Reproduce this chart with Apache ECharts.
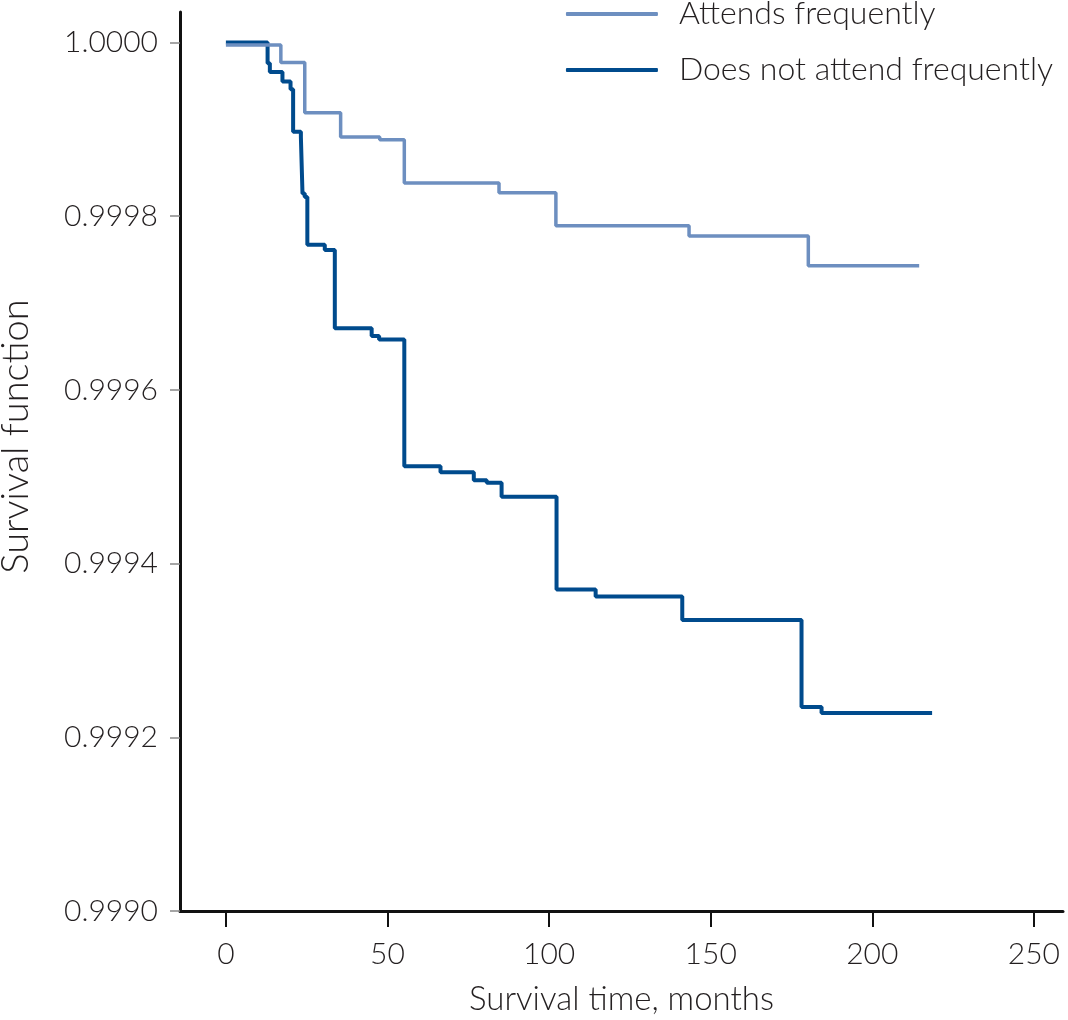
<!DOCTYPE html>
<html>
<head>
<meta charset="utf-8">
<style>html,body{margin:0;padding:0;background:#fff}#c{width:1068px;height:1020px}</style>
<script src="https://cdn.jsdelivr.net/npm/echarts@6/dist/echarts.min.js"></script>
</head>
<body>
<div id="c"></div>
<script>
const seriesNames = ['Attends frequently', 'Does not attend frequently'];
const attendsT = [0, 17.0, 24.4, 35.5, 47.6, 55.2, 84.5, 102.1, 143.3, 180.2, 214.5];
const attendsS = [0.999997, 0.999977, 0.999919, 0.999891, 0.999888, 0.999838, 0.999827, 0.999789, 0.999777, 0.999743, 0.999743];
const notT = [0, 12.9, 13.6, 17.5, 20.0, 20.8, 23.2, 23.7, 24.4, 25.2, 30.6, 33.7, 45.1, 47.4, 55.2, 66.4, 76.7, 80.7, 85.3, 102.3, 114.4, 141.2, 178.1, 184.3, 218.5];
const notS = [1.0, 0.999976, 0.999966, 0.999955, 0.999946, 0.999897, 0.999891, 0.999826, 0.999822, 0.999767, 0.999761, 0.999671, 0.999662, 0.999658, 0.999512, 0.999505, 0.999496, 0.999493, 0.999477, 0.999370, 0.999362, 0.999335, 0.999235, 0.999228, 0.999228];
const xTicks = [0, 50, 100, 150, 200, 250];
const yTicks = [0.9990, 0.9992, 0.9994, 0.9996, 0.9998, 1.0000];

const FONT = 'Lato';
const TXT = '#231f20';
const chart = echarts.init(document.getElementById('c'));
chart.setOption({
  animation: false,
  backgroundColor: '#fff',
  grid: {left: 180, right: 5, top: 12, bottom: 109, outerBoundsMode: 'none', containLabel: false},
  legend: {
    orient: 'vertical', right: 10, top: -8, itemWidth: 92, itemHeight: 4, itemGap: 22,
    icon: 'roundRect',
    textStyle: {fontFamily: FONT, fontWeight: 300, fontSize: 32, lineHeight: 34, color: TXT, padding: [0, 0, 0, 16]},
    data: seriesNames
  },
  xAxis: {
    type: 'value', min: -14.2, max: 259,
    name: 'Survival time, months', nameLocation: 'middle', nameGap: 72,
    nameTextStyle: {fontFamily: FONT, fontWeight: 300, fontSize: 33, color: TXT},
    axisLine: {show: true, onZero: false, lineStyle: {color: '#111', width: 3}},
    axisTick: {show: true, length: 16, customValues: xTicks, lineStyle: {color: '#111', width: 2}},
    axisLabel: {customValues: xTicks, margin: 28, fontFamily: FONT, fontWeight: 300, fontSize: 30, color: TXT},
    splitLine: {show: false}
  },
  yAxis: {
    type: 'value', min: 0.9990, max: 1.000035,
    name: 'Survival function', nameLocation: 'middle', nameGap: 145,
    nameTextStyle: {fontFamily: FONT, fontWeight: 300, fontSize: 38, color: TXT, padding: [0, 0, 0, 50]},
    axisLine: {show: true, onZero: false, lineStyle: {color: '#111', width: 3}},
    axisTick: {show: true, length: 10, customValues: yTicks, lineStyle: {color: '#888', width: 1.5}},
    axisLabel: {customValues: yTicks, margin: 22, fontFamily: FONT, fontWeight: 300, fontSize: 30, color: TXT,
      formatter: v => v.toFixed(4)},
    splitLine: {show: false}
  },
  series: [
    {name: seriesNames[1], type: 'line', step: 'end', showSymbol: false, z: 2,
     color: '#004b8d', lineStyle: {width: 4, color: '#004b8d'},
     data: notT.map((t, i) => [t, notS[i]])},
    {name: seriesNames[0], type: 'line', step: 'end', showSymbol: false, z: 3,
     color: '#6d8fc0', lineStyle: {width: 3.5, color: '#6d8fc0'},
     data: attendsT.map((t, i) => [t, attendsS[i]])}
  ]
});
</script>
</body>
</html>
